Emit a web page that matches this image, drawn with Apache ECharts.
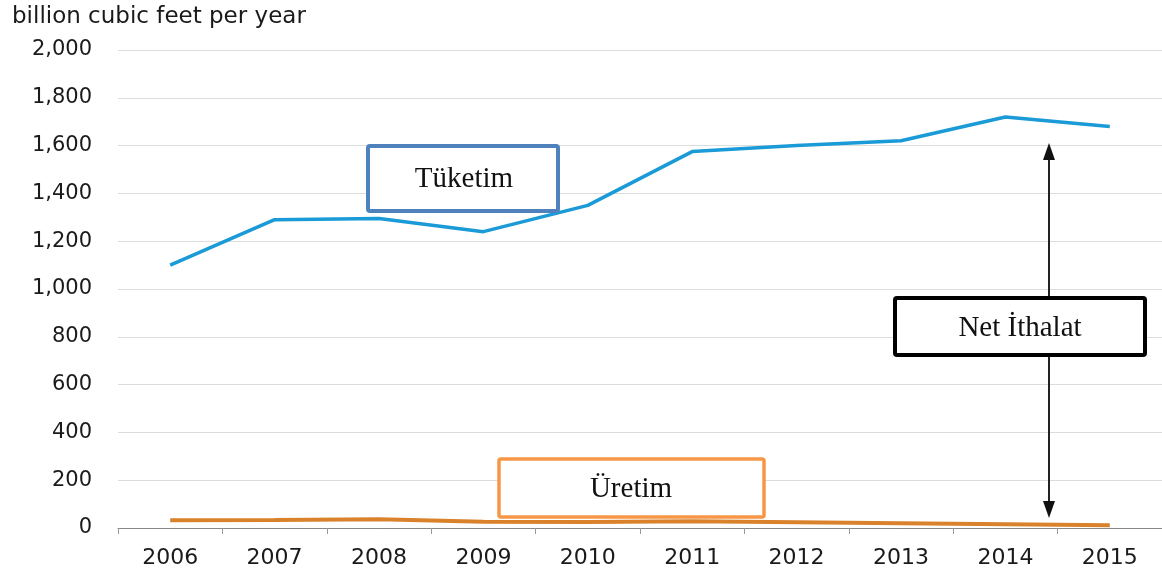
<!DOCTYPE html>
<html><head><meta charset="utf-8">
<script src="https://cdn.jsdelivr.net/npm/echarts@6/dist/echarts.min.js"></script>
<style>html,body{margin:0;padding:0;background:#fff}#c{width:1162px;height:575px}</style>
</head><body><div id="c"></div>
<script>
const years = ['2006','2007','2008','2009','2010','2011','2012','2013','2014','2015'];
const consumption = [1100,1290,1295,1240,1350,1575,1600,1620,1720,1680];
const production = [32,33,37,26,25,28,24,20,16,12];
const unitLabel = 'billion cubic feet per year';
const labels = {consumption:'Tüketim', production:'Üretim', imports:'Net İthalat'};

const chart = echarts.init(document.getElementById('c'));
const serif = '"Liberation Serif","Times New Roman",serif';
const sans = '"DejaVu Sans",Arial,sans-serif';
chart.setOption({
  animation:false,
  backgroundColor:'#fff',
  grid:{left:118, width:1046, top:50, bottom:47, containLabel:false},
  title:{text:unitLabel, left:12, top:6, padding:0, textStyle:{fontFamily:sans, fontSize:23, fontWeight:'normal', color:'#1a1a1a'}},
  xAxis:{type:'category', data:years, boundaryGap:true,
    axisLine:{lineStyle:{color:'#888', width:1}},
    axisTick:{show:true, length:6, lineStyle:{color:'#999'}},
    axisLabel:{fontFamily:sans, fontSize:22, color:'#1a1a1a', margin:19}},
  yAxis:{type:'value', min:0, max:2000, interval:200,
    axisLine:{show:false}, axisTick:{show:false},
    splitLine:{lineStyle:{color:'#dcdcdc', width:1}},
    axisLabel:{fontFamily:sans, fontSize:21, color:'#1a1a1a', margin:26, padding:[4,0,0,0],
      formatter:v=>v.toLocaleString('en-US')}},
  series:[
    {name:labels.consumption, type:'line', data:consumption, symbol:'none',
      lineStyle:{color:'#1a9ad6', width:3.5}},
    {name:labels.production, type:'line', data:production, symbol:'none',
      lineStyle:{color:'#d9822b', width:4}}
  ],
  graphic:[
    {type:'rect', shape:{x:368, y:146, width:190, height:65, r:2},
      style:{fill:'#fff', stroke:'#4f81bd', lineWidth:4}, z:10},
    {type:'text', style:{x:464, y:179, text:labels.consumption, font:'29px '+serif, fill:'#111', align:'center', verticalAlign:'middle'}, z:11},
    {type:'rect', shape:{x:499, y:459, width:265, height:58, r:2},
      style:{fill:'#fff', stroke:'#f79646', lineWidth:3.5}, z:10},
    {type:'text', style:{x:631, y:489, text:labels.production, font:'29px '+serif, fill:'#111', align:'center', verticalAlign:'middle'}, z:11},
    {type:'line', shape:{x1:1049, y1:158, x2:1049, y2:505}, style:{stroke:'#222', lineWidth:2}, z:9},
    {type:'polygon', shape:{points:[[1049,143],[1043,160],[1055,160]]}, style:{fill:'#111'}, z:9},
    {type:'polygon', shape:{points:[[1049,518],[1043,501],[1055,501]]}, style:{fill:'#111'}, z:9},
    {type:'rect', shape:{x:895, y:298, width:250, height:57, r:2},
      style:{fill:'#fff', stroke:'#000', lineWidth:4}, z:10},
    {type:'text', style:{x:1020, y:328, text:labels.imports, font:'29px '+serif, fill:'#111', align:'center', verticalAlign:'middle'}, z:11}
  ]
});
</script></body></html>
